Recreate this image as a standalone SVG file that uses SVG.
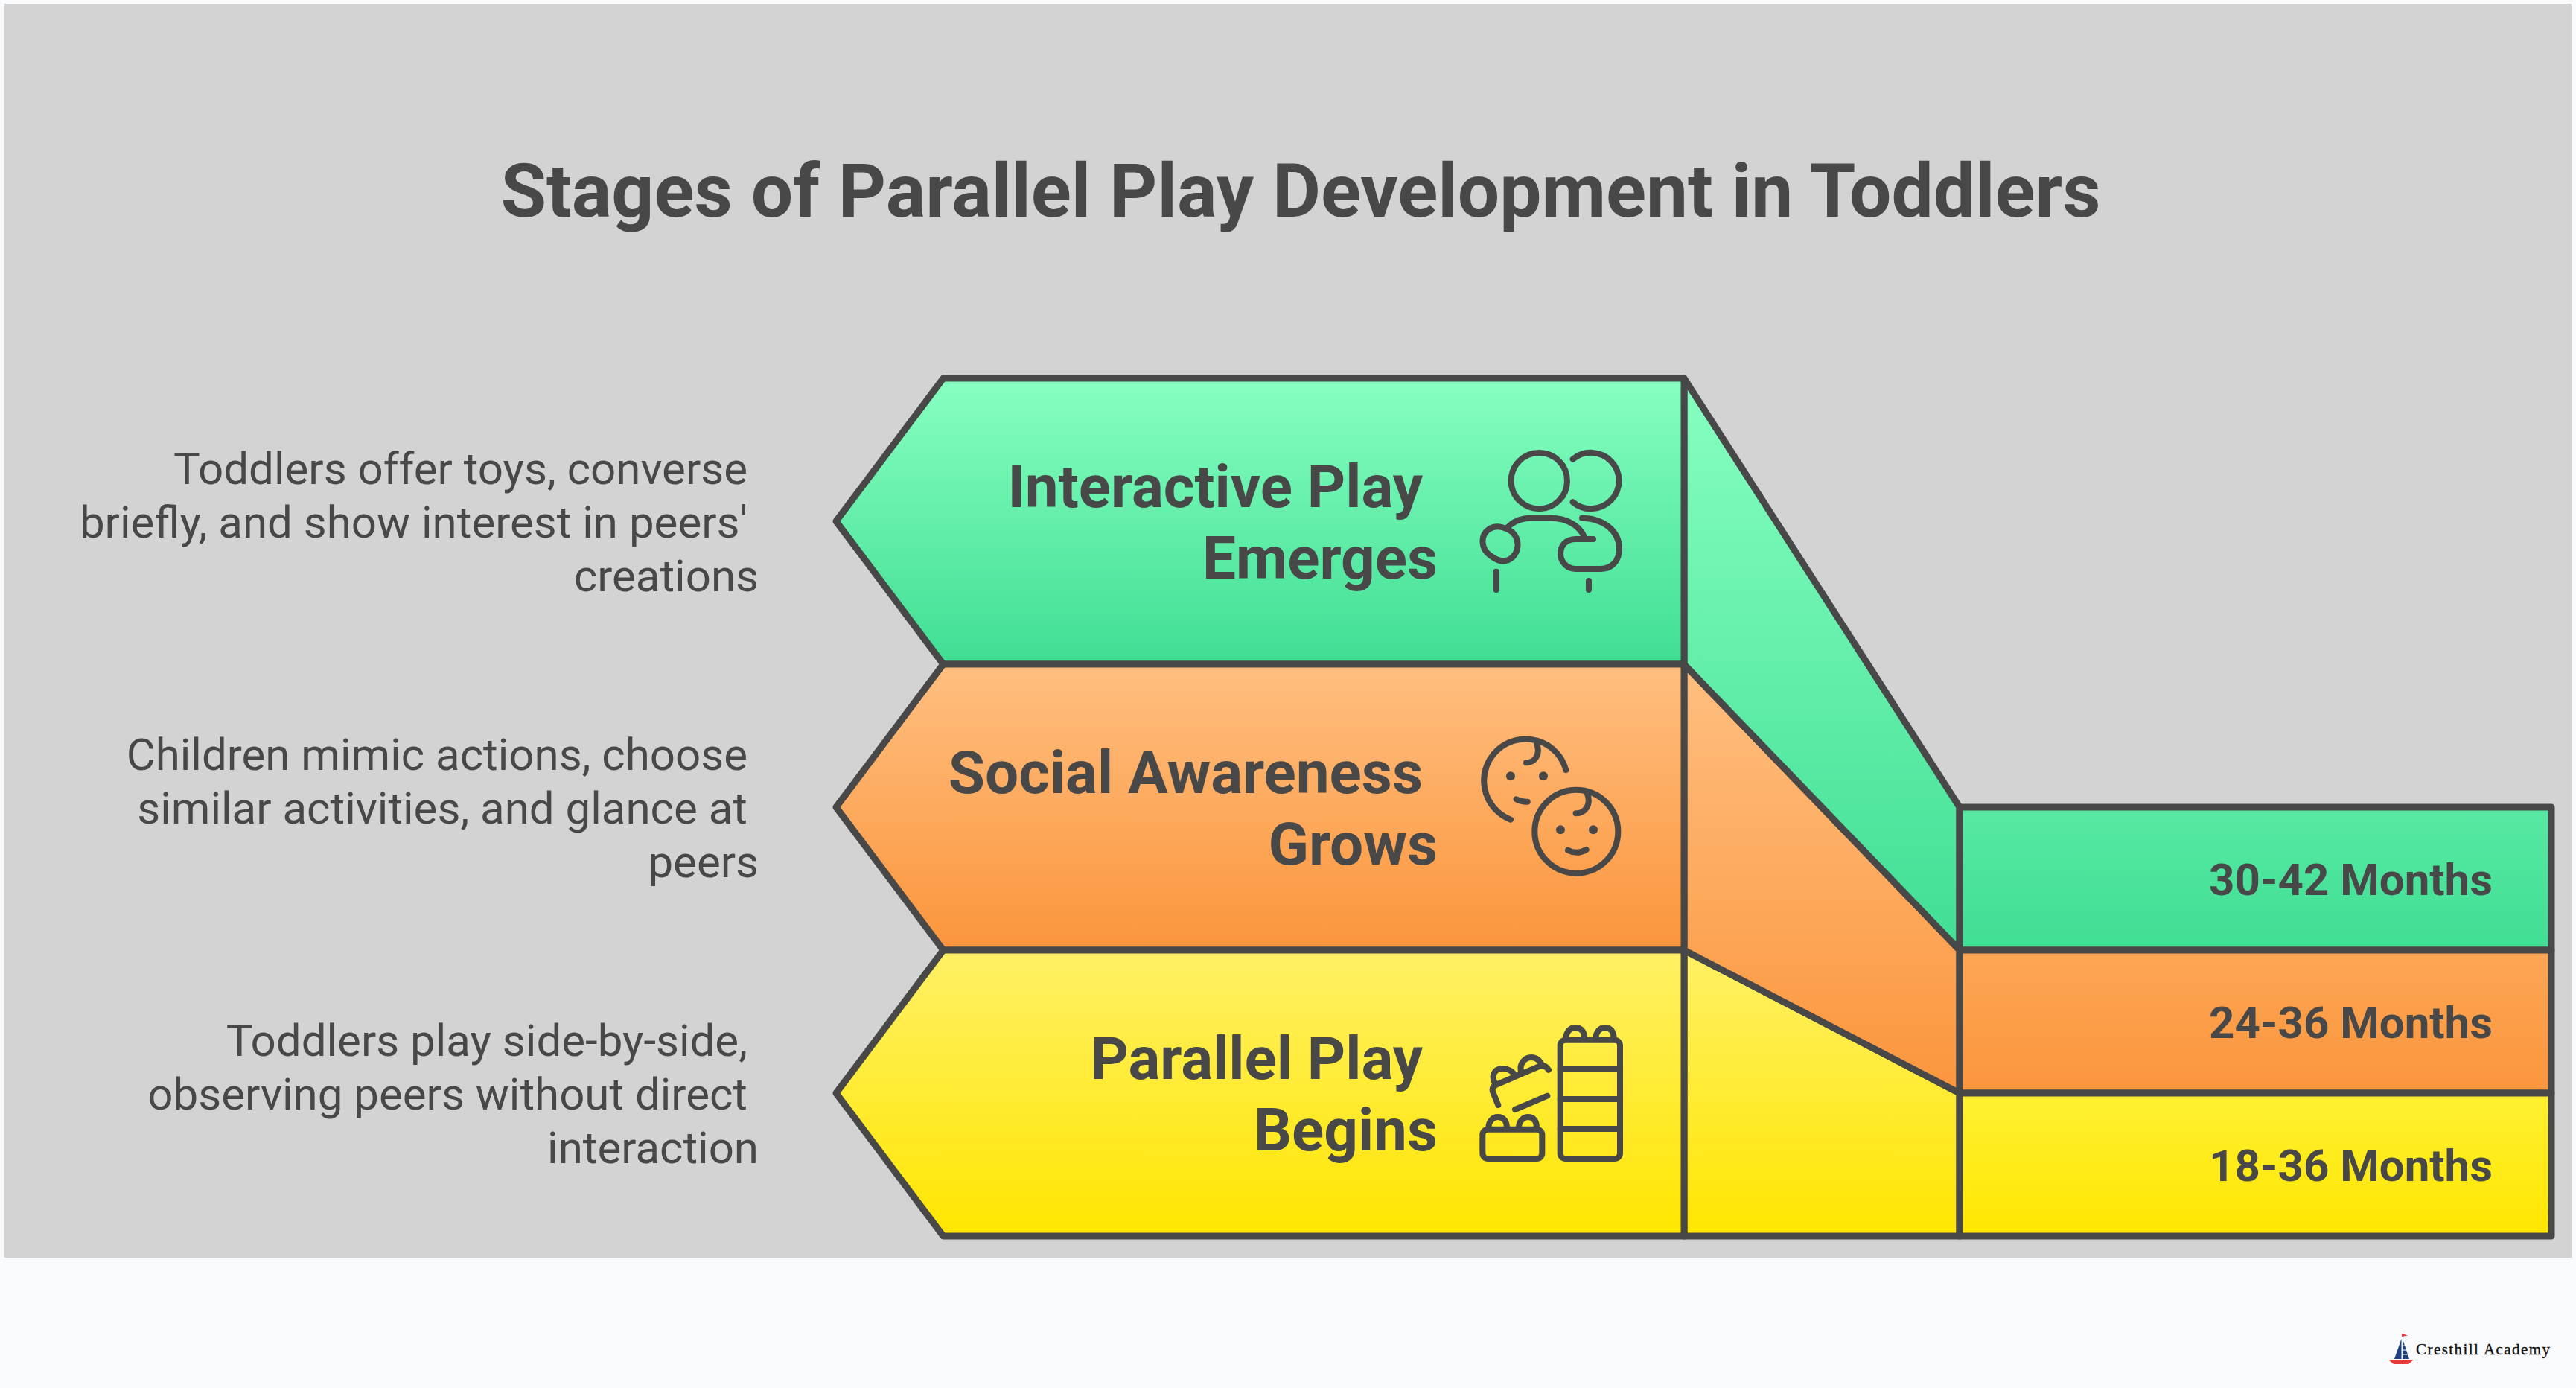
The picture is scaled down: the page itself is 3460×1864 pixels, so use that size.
<svg xmlns="http://www.w3.org/2000/svg" width="3460" height="1864" viewBox="0 0 3460 1864">
<style>
.t{font-family:Roboto,"Liberation Sans",sans-serif;fill:#484848}
.title{font-size:100px;font-weight:700;text-anchor:middle}
.head{font-size:80px;font-weight:700;text-anchor:end}
.age{font-size:60px;font-weight:700;text-anchor:end}
.desc{font-size:60px;font-weight:400;text-anchor:end}
.shape{stroke:#484848;stroke-width:9;stroke-linejoin:round}
.ic{fill:none;stroke:#484848;stroke-width:24;stroke-linecap:round;stroke-linejoin:round}
.dot{fill:#484848}
</style>
<defs>
<linearGradient id="gg1" gradientUnits="userSpaceOnUse" x1="0" y1="508" x2="0" y2="892"><stop offset="0" stop-color="#87ffc1"/><stop offset="1" stop-color="#40de94"/></linearGradient>
<linearGradient id="gg2" gradientUnits="userSpaceOnUse" x1="0" y1="508" x2="0" y2="1276"><stop offset="0" stop-color="#87ffc1"/><stop offset="1" stop-color="#40de94"/></linearGradient>
<linearGradient id="gg3" gradientUnits="userSpaceOnUse" x1="0" y1="1084" x2="0" y2="1276"><stop offset="0" stop-color="#57e9a3"/><stop offset="1" stop-color="#40de94"/></linearGradient>
<linearGradient id="og1" gradientUnits="userSpaceOnUse" x1="0" y1="892" x2="0" y2="1276"><stop offset="0" stop-color="#ffbf80"/><stop offset="1" stop-color="#fb953c"/></linearGradient>
<linearGradient id="og2" gradientUnits="userSpaceOnUse" x1="0" y1="892" x2="0" y2="1468"><stop offset="0" stop-color="#ffbf80"/><stop offset="1" stop-color="#fb953c"/></linearGradient>
<linearGradient id="og3" gradientUnits="userSpaceOnUse" x1="0" y1="1276" x2="0" y2="1468"><stop offset="0" stop-color="#fda655"/><stop offset="1" stop-color="#fb953c"/></linearGradient>
<linearGradient id="yg1" gradientUnits="userSpaceOnUse" x1="0" y1="1276" x2="0" y2="1660"><stop offset="0" stop-color="#fff066"/><stop offset="1" stop-color="#ffe600"/></linearGradient>
<linearGradient id="yg3" gradientUnits="userSpaceOnUse" x1="0" y1="1468" x2="0" y2="1660"><stop offset="0" stop-color="#fff033"/><stop offset="1" stop-color="#ffe600"/></linearGradient>
</defs>
<rect width="3460" height="1864" fill="#f9fafc"/>
<rect x="6" y="5" width="3448" height="1684" fill="#d3d3d3"/>
<text class="t title" x="1747" y="291">Stages of Parallel Play Development in Toddlers</text>
<g id="connectors">
<polygon class="shape" fill="url(#yg1)" points="2262,1276 2632,1468 2632,1660 2262,1660"/>
<polygon class="shape" fill="url(#og2)" points="2262,892 2632,1276 2632,1468 2262,1276"/>
<polygon class="shape" fill="url(#gg2)" points="2262,508 2632,1084 2632,1276 2262,892"/>
</g>
<g id="stage-interactive">
<polygon class="shape" fill="url(#gg1)" points="1267,508 2262,508 2262,892 1267,892 1123,700"/>
<text class="t head" x="1911" y="681">Interactive Play</text>
<text class="t head" x="1931" y="777">Emerges</text>
<g class="ic" transform="translate(1960 580) scale(.3333)">
<circle cx="322" cy="197" r="113"/>
<path d="M458,110 A113,113 0 1 1 458,283"/>
<path d="M195,385 C220,358 255,347 290,347 H370 C430,347 485,375 505,425"/>
<path d="M540,432 H470 C430,432 408,458 408,490 C408,525 435,552 470,552 H570 C615,552 645,520 645,470 C645,400 580,347 495,347"/>
<path d="M125,498 C85,470 85,415 120,392 C150,372 190,385 215,405 C245,435 240,480 215,505 C190,528 160,525 125,498Z"/>
<path d="M149,563 V636 M522,600 V636"/>
</g>
<text class="t desc" x="1004" y="650">Toddlers offer toys, converse</text>
<text class="t desc" x="1004" y="722">briefly, and show interest in peers'</text>
<text class="t desc" x="1019" y="794">creations</text>
</g>
<g id="stage-social">
<polygon class="shape" fill="url(#og1)" points="1267,892 2262,892 2262,1276 1267,1276 1123,1084"/>
<text class="t head" x="1911" y="1065">Social Awareness</text>
<text class="t head" x="1931" y="1161">Grows</text>
<g class="ic" transform="translate(1960 970) scale(.3333)">
<path d="M207,392 A168,168 0 1 1 430,192"/>
<path d="M270,163 C300,163 330,135 312,85"/>
<path d="M230,310 Q255,322 275,320"/>
<circle cx="472" cy="440" r="168"/>
<path d="M470,367 C505,367 535,335 515,285"/>
<path d="M438,515 Q475,535 512,513"/>
<g class="dot" style="stroke:none"><circle cx="207" cy="217" r="18"/><circle cx="339" cy="217" r="18"/><circle cx="408" cy="433" r="18"/><circle cx="540" cy="433" r="18"/></g>
</g>
<text class="t desc" x="1004" y="1034">Children mimic actions, choose</text>
<text class="t desc" x="1004" y="1106">similar activities, and glance at</text>
<text class="t desc" x="1019" y="1178">peers</text>
</g>
<g id="stage-parallel">
<polygon class="shape" fill="url(#yg1)" points="1267,1276 2262,1276 2262,1660 1267,1660 1123,1468"/>
<text class="t head" x="1911" y="1449">Parallel Play</text>
<text class="t head" x="1931" y="1545">Begins</text>
<g class="ic" transform="translate(1960 1360) scale(.3333)">
<rect x="407" y="110" width="241" height="478" rx="22"/>
<path d="M407,228 H648 M407,348 H648 M407,468 H648"/>
<path d="M430,105 C430,75 450,60 467,60 C490,60 505,75 505,105 M550,105 C550,75 570,60 587,60 C610,60 623,75 623,105"/>
<rect x="94" y="470" width="240" height="118" rx="22"/>
<path d="M118,465 C118,435 138,420 155,420 C178,420 192,435 192,465 M240,465 C240,435 260,420 277,420 C300,420 312,435 312,465"/>
<path d="M157,372 L135,318 Q130,298 150,290 L325,215 Q345,208 360,230"/>
<path d="M143,283 C125,245 150,225 175,225 C195,225 215,235 225,253 M250,240 C240,205 265,180 290,180 C312,180 327,195 335,215"/>
<path d="M225,390 L355,335"/>
</g>
<text class="t desc" x="1004" y="1418">Toddlers play side-by-side,</text>
<text class="t desc" x="1004" y="1490">observing peers without direct</text>
<text class="t desc" x="1019" y="1562">interaction</text>
</g>
<g id="age-30-42">
<rect class="shape" fill="url(#gg3)" x="2632" y="1084" width="795" height="192"/>
<text class="t age" x="3348" y="1202">30-42 Months</text>
</g>
<g id="age-24-36">
<rect class="shape" fill="url(#og3)" x="2632" y="1276" width="795" height="192"/>
<text class="t age" x="3348" y="1394">24-36 Months</text>
</g>
<g id="age-18-36">
<rect class="shape" fill="url(#yg3)" x="2632" y="1468" width="795" height="192"/>
<text class="t age" x="3348" y="1586">18-36 Months</text>
</g>
<g id="logo">
<polygon fill="#e63a3a" points="3208,1826 3242,1826 3235,1832 3215,1832"/>
<polygon fill="#1f3f7f" points="3225.500,1798 3225.500,1825 3216,1825"/>
<polygon fill="#1f3f7f" points="3227,1798 3236,1825 3227,1825"/>
<path d="M3227,1807 H3232 M3227,1813 H3234 M3227,1819 H3236" stroke="#f9fafc" stroke-width="1" fill="none"/>
<polygon fill="#e63a3a" points="3226,1791 3234,1793.500 3226,1795"/>
<text x="3245" y="1819" font-family="Liberation Serif, serif" font-size="21" font-weight="400" letter-spacing="1.45" stroke="#111" stroke-width=".35" fill="#111">Cresthill Academy</text>
</g>
</svg>
